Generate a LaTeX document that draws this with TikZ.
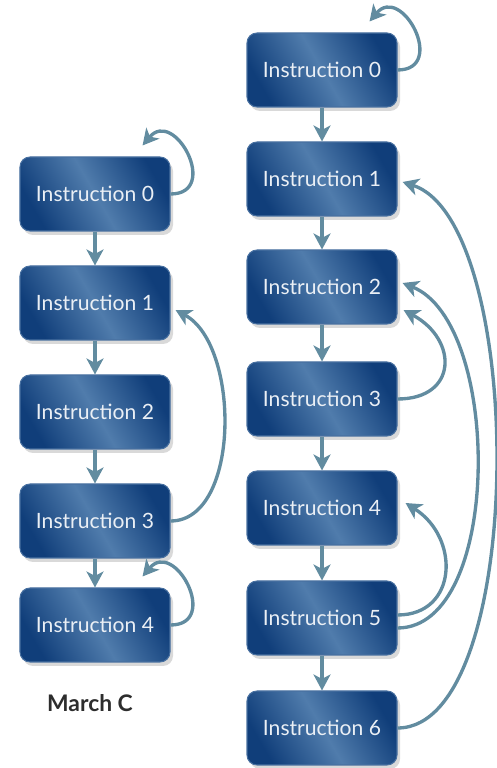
\documentclass[tikz,border=0pt]{standalone}
\usepackage{fontspec}
\setmainfont{Lato}
\usetikzlibrary{arrows.meta, shadows}

\definecolor{boxdark}{RGB}{16,62,122}
\definecolor{boxlight}{RGB}{80,124,172}
\definecolor{boxedge}{RGB}{72,112,160}
\definecolor{linkcol}{RGB}{98,140,160}
\definecolor{labelgray}{RGB}{45,45,45}

\begin{document}
\begin{tikzpicture}[
  every node/.style={align=center, font=\fontsize{12}{14}\selectfont},
  instr/.style={draw=boxedge, line width=0.6pt, rounded corners=2mm,
                minimum width=30mm, minimum height=14.8mm,
                left color=boxdark, right color=boxdark, middle color=boxlight,
                shading angle=120, text=white!88!boxlight,
                drop shadow={opacity=0.3, shadow xshift=0.6mm, shadow yshift=-0.8mm}},
  caption/.style={font=\fontsize{13}{15}\selectfont\bfseries, text=labelgray},
  arr/.style={-{Stealth[length=3.2mm, width=3.4mm, inset=0.9mm]},
              line width=1.9pt, draw=linkcol}
]
  \useasboundingbox (0,0) rectangle (9.92,15.36);

  % March C
  \node[instr] (l0) at (1.9,11.48) {Instruction 0};
  \node[instr] (l1) at (1.9,9.30) {Instruction 1};
  \node[instr] (l2) at (1.9,7.12) {Instruction 2};
  \node[instr] (l3) at (1.9,4.94) {Instruction 3};
  \node[instr] (l4) at (1.9,2.86) {Instruction 4};
  \node[caption] (mc) at (1.8,1.30) {March C};

  % second program
  \node[instr] (r0) at (6.44,13.96) {Instruction 0};
  \node[instr] (r1) at (6.44,11.78) {Instruction 1};
  \node[instr] (r2) at (6.44,9.62) {Instruction 2};
  \node[instr] (r3) at (6.44,7.38) {Instruction 3};
  \node[instr] (r4) at (6.44,5.20) {Instruction 4};
  \node[instr] (r5) at (6.44,3.00) {Instruction 5};
  \node[instr] (r6) at (6.44,0.80) {Instruction 6};

  \foreach \a/\b in {l0/l1, l1/l2, l2/l3, l3/l4,
                     r0/r1, r1/r2, r2/r3, r3/r4, r4/r5, r5/r6}
    \draw[arr] (\a) -- (\b);

  % self loops
  \foreach \n in {l0, l4, r0}
    \draw[arr] (\n.east) .. controls +(1.0,0) and +(50:1.0)
      .. ([xshift=-5.6mm, yshift=2.2mm]\n.north east);

  % jumps back
  \draw[arr] (l3.east) .. controls +(1.4,0) and +(1.3,-0.7)
    .. ([xshift=1mm, yshift=-1.4mm]l1.east);
  \draw[arr] (r3.east) .. controls +(1.2,0) and +(1.1,-0.6)
    .. ([xshift=1.2mm, yshift=-4.6mm]r2.east);
  \draw[arr] ([yshift=-2mm]r5.east) .. controls +(2.1,0) and +(2.0,-0.8)
    .. ([xshift=1mm, yshift=0.8mm]r2.east);
  \draw[arr] ([yshift=0.6mm]r5.east) .. controls +(1.2,0) and +(1.1,-0.7)
    .. ([xshift=1.6mm, yshift=1mm]r4.east);
  \draw[arr] (r6.east) .. controls +(2.6,0) and +(2.5,-0.8)
    .. ([xshift=1mm, yshift=-0.6mm]r1.east);
\end{tikzpicture}
\end{document}
